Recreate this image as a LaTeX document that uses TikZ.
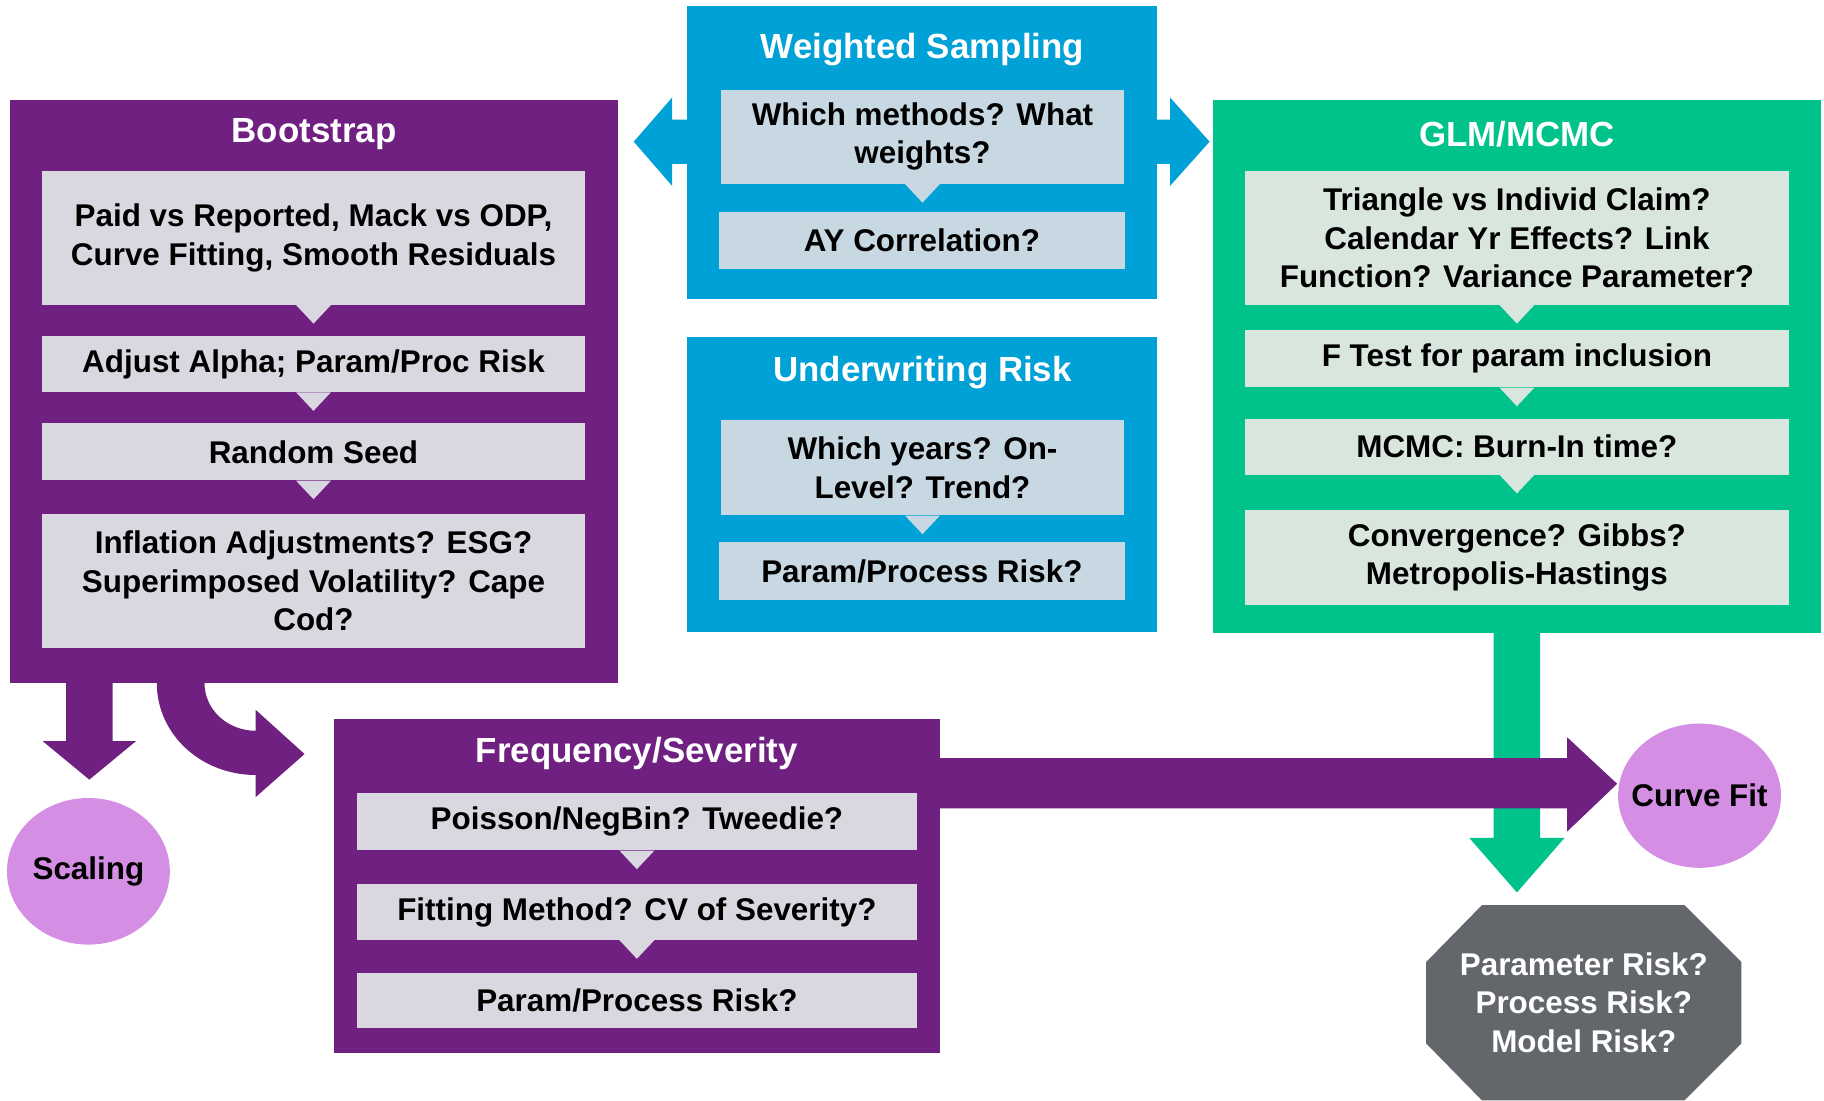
\documentclass[tikz,border=0pt]{standalone}
\usepackage{fontspec}
\setmainfont{Liberation Sans}
\usetikzlibrary{calc,shapes.geometric}

\definecolor{bspurple}{RGB}{111,32,128}
\definecolor{bsin}{RGB}{217,216,225}
\definecolor{wsblue}{RGB}{0,161,214}
\definecolor{wsin}{RGB}{200,216,226}
\definecolor{glmgreen}{RGB}{0,194,139}
\definecolor{glmin}{RGB}{216,230,222}
\definecolor{ovalpink}{RGB}{212,143,228}
\definecolor{octgray}{RGB}{99,102,107}

\tikzset{
  panel/.style={rectangle, inner sep=0pt},
  title/.style={text=white, yshift=-3pt, font=\bfseries\fontsize{30}{36}\selectfont},
  item/.style={rectangle, inner sep=0pt, align=center, font=\bfseries\fontsize{27}{33}\selectfont},
  oval/.style={ellipse, fill=ovalpink, inner sep=0pt},
  ovaltext/.style={font=\bfseries\fontsize{27}{33}\selectfont}
}

\begin{document}
\begin{tikzpicture}[x=1pt,y=-1pt]
            \useasboundingbox (0,0) rectangle (1568,946);

            % Bootstrap panel
            \node[panel, fill=bspurple, minimum width=522, minimum height=501] (bs) at (270,336.5) {};
            \node[title] (bst) at (270,112) {Bootstrap};
            \node[item, fill=bsin, minimum width=467, minimum height=115] (b1) at (269.5,204.5) {Paid vs Reported, Mack vs ODP,\\Curve Fitting, Smooth Residuals};
            \node[item, fill=bsin, minimum width=467, minimum height=48] (b2) at (269.5,313) {Adjust Alpha; Param/Proc Risk};
            \node[item, fill=bsin, minimum width=467, minimum height=49] (b3) at (269.5,388.5) {Random Seed};
            \node[item, fill=bsin, minimum width=467, minimum height=115] (b4) at (269.5,499.5) {Inflation Adjustments? ESG?\\Superimposed Volatility? Cape\\Cod?};

            % Weighted sampling panel and double arrow
            \node[panel, fill=wsblue, minimum width=404, minimum height=252] (ws) at (793,131) {};
            \fill[wsblue] ($(ws.north west)+(-46,117)$) -- ++(33,-38) -- ++(0,19) -- ++(428,0) -- ++(0,-19) -- ++(34,38) -- ++(-34,38) -- ++(0,-19) -- ++(-428,0) -- ++(0,19) -- cycle;
            \node[title] (wst) at (793,40) {Weighted Sampling};
            \node[item, fill=wsin, minimum width=346, minimum height=81] (w1) at (793,117.5) {Which methods? What\\weights?};
            \node[item, fill=wsin, minimum width=349, minimum height=49] (w2) at (792.5,206.5) {AY Correlation?};

            % Underwriting risk panel
            \node[panel, fill=wsblue, minimum width=404, minimum height=253] (uw) at (793,416.5) {};
            \node[title] (uwt) at (793,317) {Underwriting Risk};
            \node[item, fill=wsin, minimum width=346, minimum height=82] (u1) at (793,402) {Which years? On-\\Level? Trend?};
            \node[item, fill=wsin, minimum width=349, minimum height=50] (u2) at (792.5,491) {Param/Process Risk?};

            % GLM/MCMC panel
            \node[panel, fill=glmgreen, minimum width=522, minimum height=458] (glm) at (1304,315) {};
            \node[title] (glmt) at (1304,112) {GLM/MCMC};
            \node[item, fill=glmin, minimum width=468, minimum height=115] (g1) at (1304,204.5) {Triangle vs Individ Claim?\\Calendar Yr Effects? Link\\Function? Variance Parameter?};
            \node[item, fill=glmin, minimum width=468, minimum height=49] (g2) at (1304,308.5) {F Test for param inclusion};
            \node[item, fill=glmin, minimum width=468, minimum height=48] (g3) at (1304,384) {MCMC: Burn-In time?};
            \node[item, fill=glmin, minimum width=468, minimum height=82] (g4) at (1304,479) {Convergence? Gibbs?\\Metropolis-Hastings};

            % Frequency/severity panel
            \node[panel, fill=bspurple, minimum width=521, minimum height=287] (fs) at (547.5,761.5) {};
            \node[title] (fst) at (547.5,645) {Frequency/Severity};
            \node[item, fill=bsin, minimum width=481, minimum height=49] (f1) at (547.5,706.5) {Poisson/NegBin? Tweedie?};
            \node[item, fill=bsin, minimum width=481, minimum height=48] (f2) at (547.5,784) {Fitting Method? CV of Severity?};
            \node[item, fill=bsin, minimum width=481, minimum height=48] (f3) at (547.5,860) {Param/Process Risk?};

            % Little pointers between the steps
            \foreach \n/\c in {b1/bsin,b2/bsin,b3/bsin,w1/wsin,u1/wsin,g1/glmin,g2/glmin,g3/glmin,f1/bsin,f2/bsin}
              \fill[\c] ($(\n.south)+(-15,0)$) -- ($(\n.south)+(15,0)$) -- ($(\n.south)+(0,16)$) -- cycle;

            % Arrows out of bootstrap
            \fill[bspurple] ($(bs.south west)+(48,0)$) -- ++(0,50) -- ++(-20,0) -- ++(40,33) -- ++(40,-33) -- ++(-20,0) -- ++(0,-50) -- cycle;
            \fill[bspurple] ($(bs.south west)+(126,0)$) .. controls +(0,44) and +(-47,0) .. ++(85,79) -- ++(0,19) -- ++(42,-37) -- ++(-42,-38) -- ++(0,18) .. controls +(-24,0) and +(0,23) .. ++(-44,-41) -- cycle;
            \node[oval, minimum width=140, minimum height=126] (sc) at (76,749) {};
            \node[ovaltext] (sct) at (sc) {Scaling};

            % Arrow down out of GLM/MCMC
            \fill[glmgreen] ($(glm.south)+(-20,0)$) -- ++(0,176) -- ++(-21,0) -- ++(41,47) -- ++(41,-47) -- ++(-21,0) -- ++(0,-176) -- cycle;

            % Arrow to curve fit
            \fill[bspurple] ($(fs.north east)+(0,34)$) -- ++(539,0) -- ++(0,-18) -- ++(43,40) -- ++(-43,41) -- ++(0,-20) -- ++(-539,0) -- cycle;
            \node[oval, minimum width=140, minimum height=124] (cf) at (1461,684) {};
            \node[ovaltext] (cft) at (cf) {Curve Fit};

            % Risk octagon
            \fill[octgray] (1274,778) -- (1448,778) -- (1497,827) -- (1497,897) -- (1448,946) -- (1274,946) -- (1226,897) -- (1226,827) -- cycle;
            \node[item, text=white] (oc) at (1361.5,862) {Parameter Risk?\\Process Risk?\\Model Risk?};
\end{tikzpicture}
\end{document}
